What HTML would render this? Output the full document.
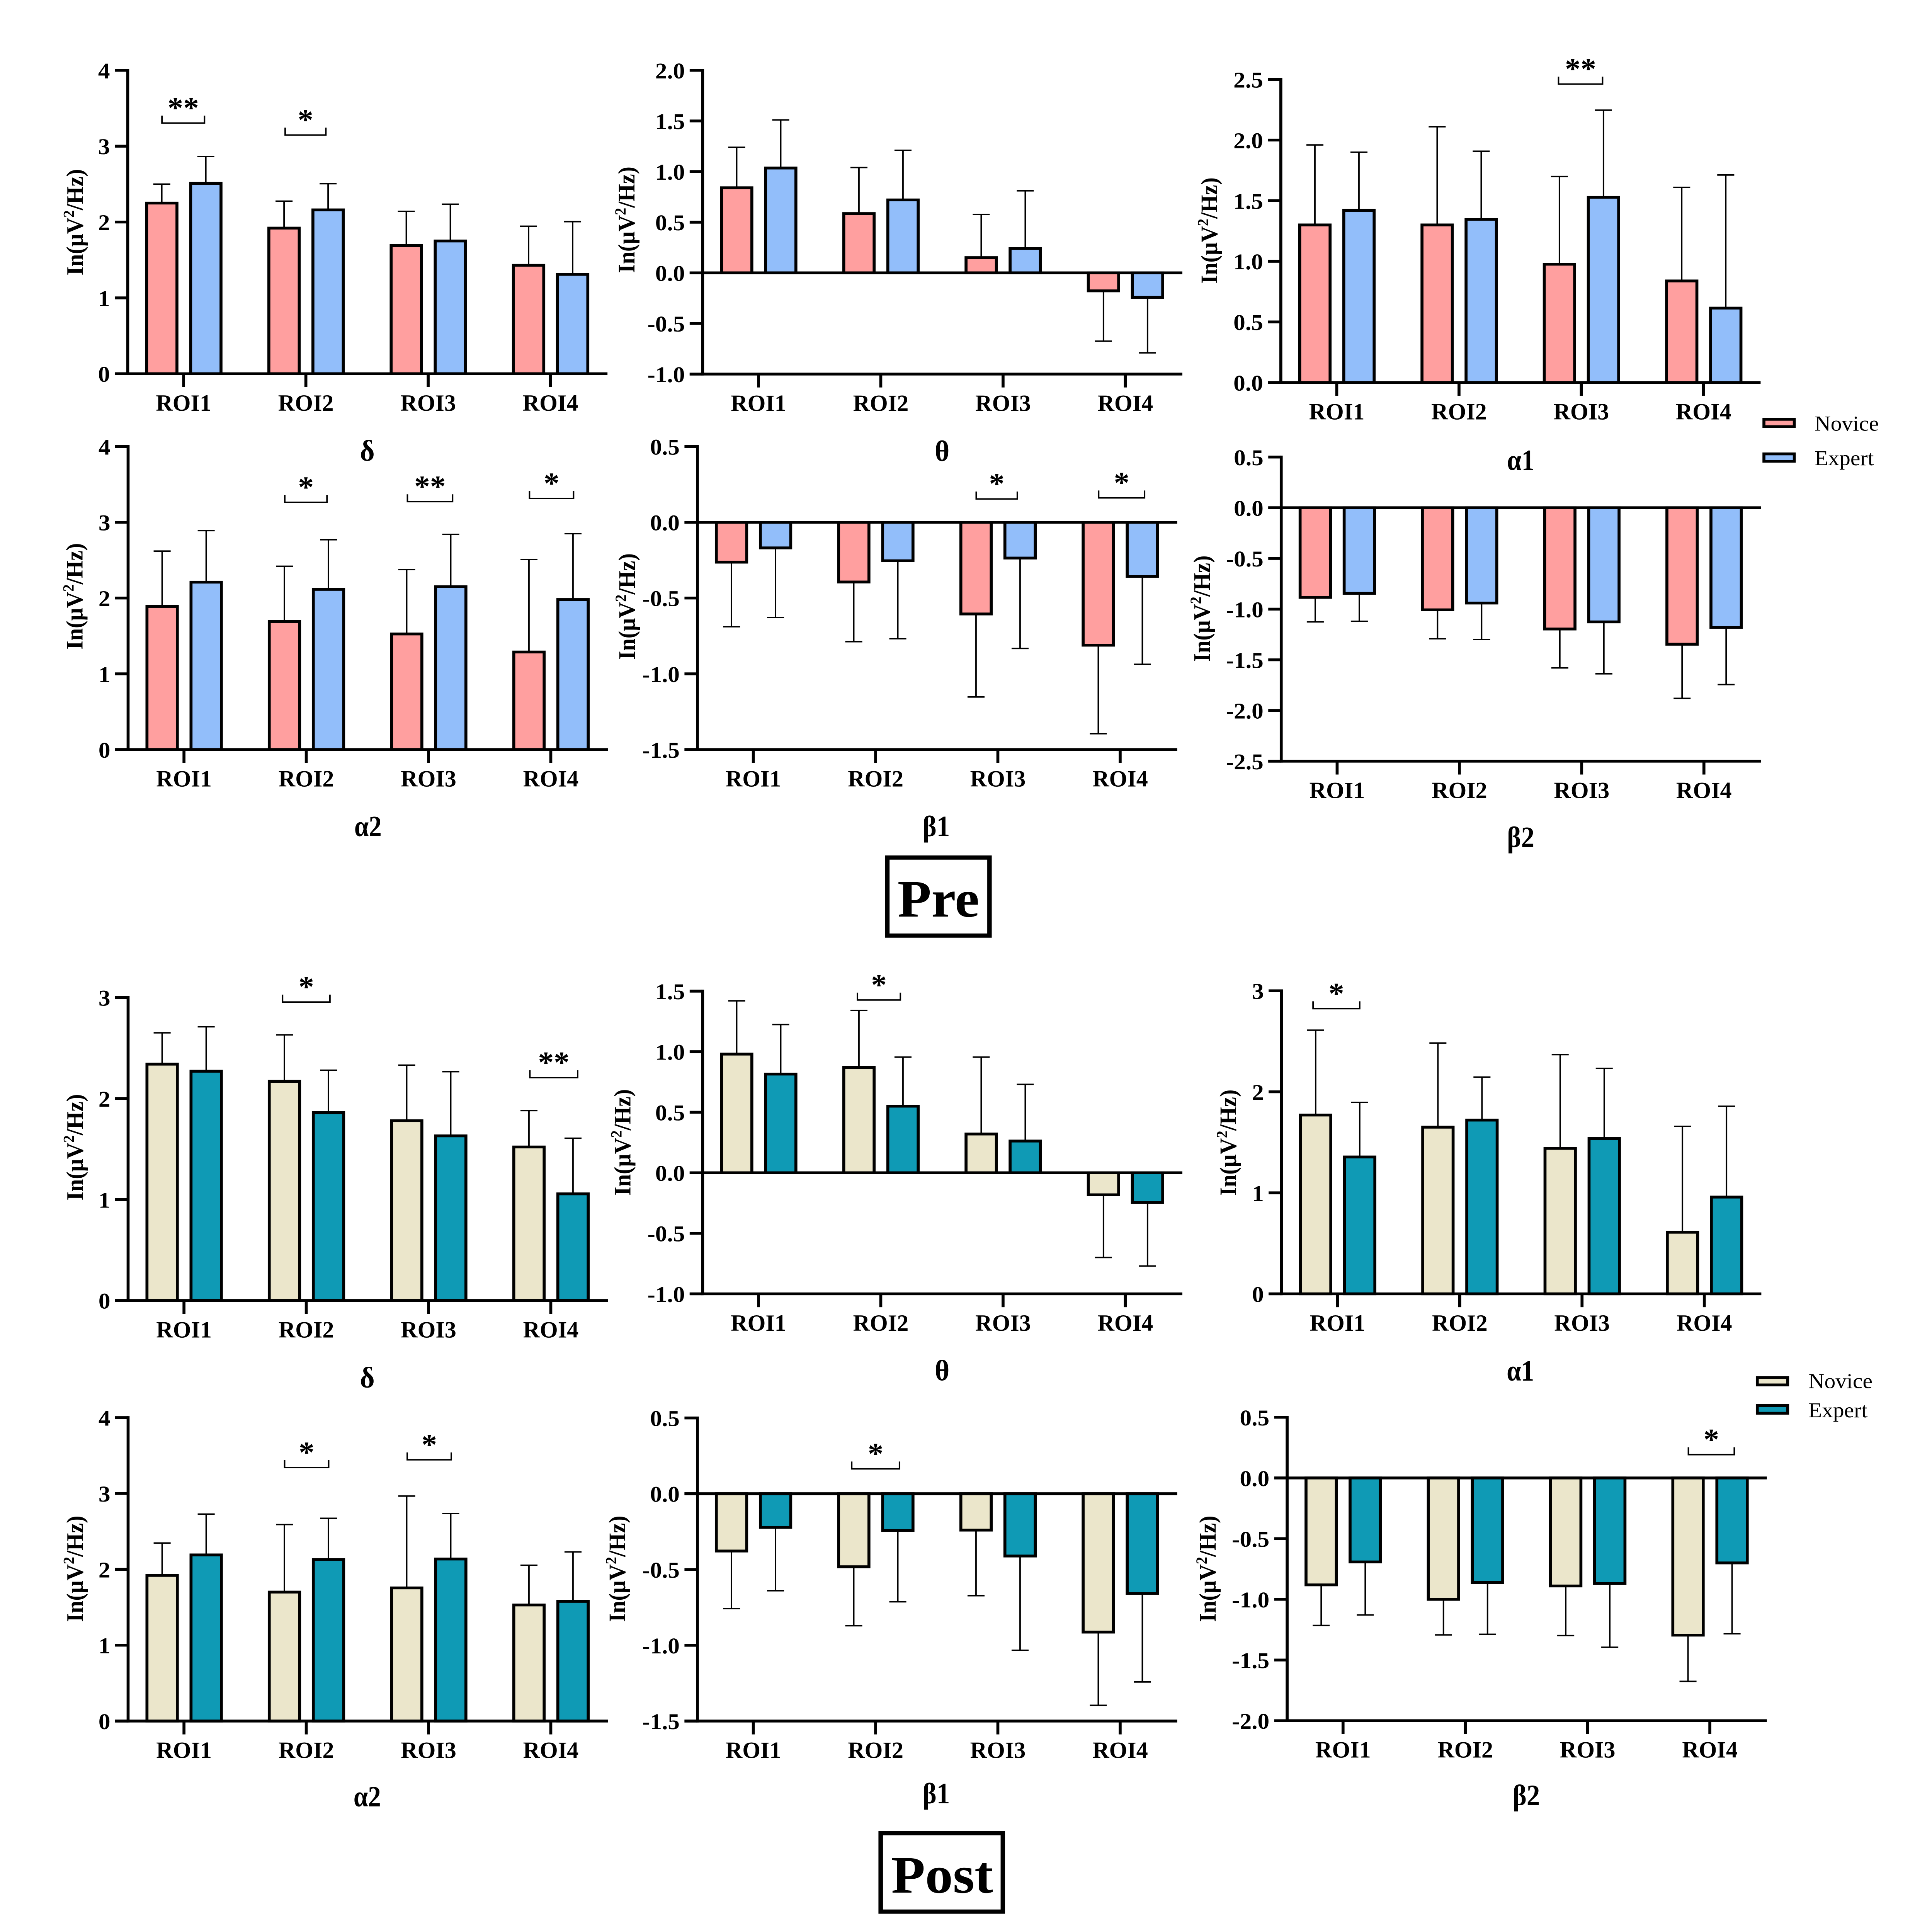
<!DOCTYPE html>
<html lang="en">
<head>
<meta charset="utf-8">
<title>Pre and Post band power by ROI</title>
<style>
html,body{margin:0;padding:0;background:#fff;width:100%;height:100%;overflow:hidden;}
svg{display:block;width:100vw;height:100vh;}
text{font-family:"Liberation Serif","DejaVu Serif",serif;fill:#000;}
</style>
</head>
<body>
<svg id="figure" xmlns="http://www.w3.org/2000/svg" viewBox="0 0 5219 5495" preserveAspectRatio="none">
  <rect x="0" y="0" width="5219" height="5495" fill="#fff"/>
  <g>
    <rect x="2397" y="2439" width="276" height="222" fill="none" stroke="#000" stroke-width="12"/>
    <text x="2535" y="2607" font-size="150" font-weight="700" text-anchor="middle" textLength="221" lengthAdjust="spacingAndGlyphs">Pre</text>
  </g>
  <g>
    <rect x="2379" y="5214" width="330" height="223" fill="none" stroke="#000" stroke-width="12"/>
    <text x="2545" y="5383" font-size="150" font-weight="700" text-anchor="middle">Post</text>
  </g>
  <g>
    <rect x="4765" y="1192.5" width="82" height="21" fill="#FF9F9F" stroke="#000" stroke-width="8"/>
    <text x="4902" y="1225" font-size="60">Novice</text>
    <rect x="4765" y="1291" width="82" height="21" fill="#92BEFA" stroke="#000" stroke-width="8"/>
    <text x="4902" y="1323" font-size="60">Expert</text>
  </g>
  <g>
    <rect x="4747" y="3918" width="82" height="21" fill="#EBE6CB" stroke="#000" stroke-width="8"/>
    <text x="4885" y="3948" font-size="60">Novice</text>
    <rect x="4747" y="3997.5" width="82" height="22" fill="#0F9AB5" stroke="#000" stroke-width="8"/>
    <text x="4885" y="4031" font-size="60">Expert</text>
  </g>
</svg>
<script>
// Shared categories
const categories = ['ROI1', 'ROI2', 'ROI3', 'ROI4'];

// Tick labels
const ticksPreDelta = ['0', '1', '2', '3', '4'];
const ticksPreTheta = ['-1.0', '-0.5', '0.0', '0.5', '1.0', '1.5', '2.0'];
const ticksPreAlpha1 = ['0.0', '0.5', '1.0', '1.5', '2.0', '2.5'];
const ticksPreAlpha2 = ['0', '1', '2', '3', '4'];
const ticksPreBeta1 = ['-1.5', '-1.0', '-0.5', '0.0', '0.5'];
const ticksPreBeta2 = ['-2.5', '-2.0', '-1.5', '-1.0', '-0.5', '0.0', '0.5'];
const ticksPostDelta = ['0', '1', '2', '3'];
const ticksPostTheta = ['-1.0', '-0.5', '0.0', '0.5', '1.0', '1.5'];
const ticksPostAlpha1 = ['0', '1', '2', '3'];
const ticksPostAlpha2 = ['0', '1', '2', '3', '4'];
const ticksPostBeta1 = ['-1.5', '-1.0', '-0.5', '0.0', '0.5'];
const ticksPostBeta2 = ['-2.0', '-1.5', '-1.0', '-0.5', '0.0', '0.5'];

// Pre: bar values and error-bar ends
const preDeltaNovice = [2.25, 1.92, 1.69, 1.43];
const preDeltaExpert = [2.51, 2.16, 1.75, 1.31];
const preDeltaNoviceErr = [2.50, 2.275, 2.14, 1.945];
const preDeltaExpertErr = [2.865, 2.505, 2.235, 2.005];

const preThetaNovice = [0.84, 0.585, 0.15, -0.178];
const preThetaExpert = [1.035, 0.72, 0.24, -0.242];
const preThetaNoviceErr = [1.24, 1.04, 0.577, -0.675];
const preThetaExpertErr = [1.51, 1.21, 0.81, -0.79];

const preAlpha1Novice = [1.30, 1.30, 0.976, 0.838];
const preAlpha1Expert = [1.42, 1.346, 1.528, 0.614];
const preAlpha1NoviceErr = [1.96, 2.11, 1.70, 1.61];
const preAlpha1ExpertErr = [1.90, 1.908, 2.247, 1.712];

const preAlpha2Novice = [1.89, 1.69, 1.526, 1.288];
const preAlpha2Expert = [2.21, 2.115, 2.15, 1.98];
const preAlpha2NoviceErr = [2.62, 2.42, 2.375, 2.51];
const preAlpha2ExpertErr = [2.89, 2.77, 2.84, 2.85];

const preBeta1Novice = [-0.263, -0.394, -0.605, -0.811];
const preBeta1Expert = [-0.169, -0.254, -0.236, -0.357];
const preBeta1NoviceErr = [-0.689, -0.788, -1.153, -1.395];
const preBeta1ExpertErr = [-0.628, -0.768, -0.833, -0.937];

const preBeta2Novice = [-0.884, -1.007, -1.196, -1.346];
const preBeta2Expert = [-0.844, -0.94, -1.126, -1.18];
const preBeta2NoviceErr = [-1.126, -1.292, -1.58, -1.88];
const preBeta2ExpertErr = [-1.12, -1.30, -1.638, -1.744];

// Post: bar values and error-bar ends
const postDeltaNovice = [2.34, 2.17, 1.78, 1.52];
const postDeltaExpert = [2.27, 1.86, 1.63, 1.056];
const postDeltaNoviceErr = [2.65, 2.63, 2.33, 1.88];
const postDeltaExpertErr = [2.71, 2.28, 2.265, 1.607];

const postThetaNovice = [0.98, 0.87, 0.32, -0.182];
const postThetaExpert = [0.815, 0.55, 0.262, -0.246];
const postThetaNoviceErr = [1.42, 1.34, 0.955, -0.70];
const postThetaExpertErr = [1.224, 0.955, 0.73, -0.77];

const postAlpha1Novice = [1.77, 1.65, 1.44, 0.61];
const postAlpha1Expert = [1.355, 1.72, 1.537, 0.958];
const postAlpha1NoviceErr = [2.61, 2.483, 2.368, 1.658];
const postAlpha1ExpertErr = [1.895, 2.146, 2.232, 1.857];

const postAlpha2Novice = [1.92, 1.70, 1.755, 1.53];
const postAlpha2Expert = [2.19, 2.13, 2.136, 1.578];
const postAlpha2NoviceErr = [2.347, 2.59, 2.966, 2.054];
const postAlpha2ExpertErr = [2.728, 2.673, 2.735, 2.23];

const postBeta1Novice = [-0.378, -0.482, -0.24, -0.913];
const postBeta1Expert = [-0.222, -0.242, -0.411, -0.658];
const postBeta1NoviceErr = [-0.758, -0.871, -0.673, -1.396];
const postBeta1ExpertErr = [-0.64, -0.713, -1.033, -1.242];

const postBeta2Novice = [-0.881, -1.0, -0.89, -1.295];
const postBeta2Expert = [-0.692, -0.861, -0.87, -0.70];
const postBeta2NoviceErr = [-1.215, -1.293, -1.298, -1.676];
const postBeta2ExpertErr = [-1.129, -1.288, -1.395, -1.284];

const PRE_NOVICE = '#FF9F9F';
const PRE_EXPERT = '#92BEFA';
const POST_NOVICE = '#EBE6CB';
const POST_EXPERT = '#0F9AB5';

const NS = 'http://www.w3.org/2000/svg';
const figure = document.getElementById('figure');

function make(tag, parent, attrs, content) {
  const el = document.createElementNS(NS, tag);
  for (const key in attrs) el.setAttribute(key, attrs[key]);
  if (content !== undefined) el.textContent = content;
  parent.appendChild(el);
  return el;
}

function drawPanel(p) {
  const group = make('g', figure, {});
  
  

  const numeric = p.ticks.map(Number);
  const minV = Math.min.apply(null, numeric);
  const maxV = Math.max.apply(null, numeric);
  const yScale = function (v) { return p.top + (maxV - v) / (maxV - minV) * (p.bottom - p.top); };
  const xScale = function (i) { return p.axisX + 151 + i * 330.3; };
  const right = p.axisX + 1296;
  const leftEnd = p.axisX - 35;

  // Error bars sit behind the bars
  categories.forEach(function (cat, i) {
    [[p.novice, p.noviceErr, -59], [p.expert, p.expertErr, 60]].forEach(function (s) {
      const cx = xScale(i) + s[2];
      const stem = make('line', group, { x1: cx, x2: cx, y1: yScale(s[0][i]), y2: yScale(s[1][i]), stroke: '#000', 'stroke-width': 4 });
      
      
      const cap = make('line', group, { x1: cx - 23, x2: cx + 23, y1: yScale(s[1][i]), y2: yScale(s[1][i]), stroke: '#000', 'stroke-width': 4 });
      
      
    });
  });

  // Bars
  categories.forEach(function (cat, i) {
    const cx0 = xScale(i) - 59;
    const y0a = yScale(p.novice[i]);
    const zero0 = yScale(0);
    const noviceBar = make('rect', group, { x: cx0 - 41, width: 82, y: Math.min(y0a, zero0), height: Math.abs(zero0 - y0a), fill: p.noviceColor, stroke: '#000', 'stroke-width': 8 });
    
    
    const cx1 = xScale(i) + 60;
    const y1a = yScale(p.expert[i]);
    const expertBar = make('rect', group, { x: cx1 - 41, width: 82, y: Math.min(y1a, zero0), height: Math.abs(zero0 - y1a), fill: p.expertColor, stroke: '#000', 'stroke-width': 8 });
    
    
  });

  // Y axis and ticks
  const yAxis = make('line', group, { x1: p.axisX, x2: p.axisX, y1: p.top - 4, y2: p.bottom + 4, stroke: '#000', 'stroke-width': 8 });
  
  
  p.ticks.forEach(function (label) {
    const y = yScale(Number(label));
    const tick = make('line', group, { x1: leftEnd, x2: p.axisX, y1: y, y2: y, stroke: '#000', 'stroke-width': 8 });
    
    
    const text = make('text', group, { x: p.axisX - 48, y: y + 23, 'font-size': 64, 'font-weight': 700, 'text-anchor': 'end' }, label);
    
    
  });

  // X axis and zero line
  const xAxis = make('line', group, { x1: leftEnd, x2: right, y1: p.bottom, y2: p.bottom, stroke: '#000', 'stroke-width': 8 });
  
  
  if (minV < 0) {
    const zeroLine = make('line', group, { x1: leftEnd, x2: right, y1: yScale(0), y2: yScale(0), stroke: '#000', 'stroke-width': 8 });
    
    
  }
  categories.forEach(function (cat, i) {
    const x = xScale(i);
    const tick = make('line', group, { x1: x, x2: x, y1: p.bottom, y2: p.bottom + 38, stroke: '#000', 'stroke-width': 8 });
    
    
    const text = make('text', group, { x: x, y: p.bottom + 105, 'font-size': 66, 'font-weight': 700, 'text-anchor': 'middle', textLength: 150, lengthAdjust: 'spacingAndGlyphs' }, cat);
    
    
  });

  // Y axis title
  const yTitle = make('text', group, { transform: 'translate(' + (p.axisX + p.yTitleDx) + ',' + p.yTitleCy + ') rotate(-90)', 'font-size': 64, 'font-weight': 700, 'text-anchor': 'middle' });
  
  
  make('tspan', yTitle, {}, 'In(\u03BCV');
  make('tspan', yTitle, { dy: -24, 'font-size': 42 }, '2');
  make('tspan', yTitle, { dy: 24 }, '/Hz)');

  // Panel title
  const title = make('text', group, { x: p.titleX, y: p.titleY, 'font-size': 84, 'font-weight': 700, 'text-anchor': 'middle', textLength: p.title.length > 1 ? 74 : 40, lengthAdjust: 'spacingAndGlyphs' }, p.title);
  
  

  // Significance brackets
  p.brackets.forEach(function (b) {
    const cx = xScale(b.roi) + b.dx;
    const y = yScale(b.level);
    const bracket = make('path', group, { d: 'M' + (cx - b.w / 2) + ' ' + (y - 21) + ' V' + y + ' H' + (cx + b.w / 2) + ' V' + (y - 21), fill: 'none', stroke: '#000', 'stroke-width': 4 });
    
    
    const star = make('text', group, { x: cx, y: y - 15, 'font-size': 85, 'font-weight': 700, 'text-anchor': 'middle' }, b.stars);
    
    
  });
}

const panels = [
  { title: '\u03B4', axisX: 345, top: 200, bottom: 1063, ticks: ticksPreDelta, novice: preDeltaNovice, expert: preDeltaExpert, noviceErr: preDeltaNoviceErr, expertErr: preDeltaExpertErr, noviceColor: PRE_NOVICE, expertColor: PRE_EXPERT, titleX: 992, titleY: 1310, yTitleDx: -121, yTitleCy: 632,
    brackets: [{ roi: 0, level: 3.305, stars: '**', dx: -1, w: 115 }, { roi: 1, level: 3.147, stars: '*', dx: -1, w: 110 }] },
  { title: '\u03B8', axisX: 1898, top: 200, bottom: 1064, ticks: ticksPreTheta, novice: preThetaNovice, expert: preThetaExpert, noviceErr: preThetaNoviceErr, expertErr: preThetaExpertErr, noviceColor: PRE_NOVICE, expertColor: PRE_EXPERT, titleX: 2545, titleY: 1311, yTitleDx: -184, yTitleCy: 625,
    brackets: [] },
  { title: '\u03B11', axisX: 3460, top: 226, bottom: 1088, ticks: ticksPreAlpha1, novice: preAlpha1Novice, expert: preAlpha1Expert, noviceErr: preAlpha1NoviceErr, expertErr: preAlpha1ExpertErr, noviceColor: PRE_NOVICE, expertColor: PRE_EXPERT, titleX: 4108, titleY: 1337, yTitleDx: -172, yTitleCy: 656,
    brackets: [{ roi: 2, level: 2.462, stars: '**', dx: -2, w: 119 }] },
  { title: '\u03B12', axisX: 346, top: 1270, bottom: 2132, ticks: ticksPreAlpha2, novice: preAlpha2Novice, expert: preAlpha2Expert, noviceErr: preAlpha2NoviceErr, expertErr: preAlpha2ExpertErr, noviceColor: PRE_NOVICE, expertColor: PRE_EXPERT, titleX: 994, titleY: 2378, yTitleDx: -123, yTitleCy: 1696,
    brackets: [{ roi: 1, level: 3.263, stars: '*', dx: -1, w: 114 }, { roi: 2, level: 3.272, stars: '**', dx: 4, w: 122 }, { roi: 3, level: 3.314, stars: '*', dx: 2, w: 119 }] },
  { title: '\u03B21', axisX: 1884, top: 1270, bottom: 2132, ticks: ticksPreBeta1, novice: preBeta1Novice, expert: preBeta1Expert, noviceErr: preBeta1NoviceErr, expertErr: preBeta1ExpertErr, noviceColor: PRE_NOVICE, expertColor: PRE_EXPERT, titleX: 2529, titleY: 2378, yTitleDx: -169, yTitleCy: 1725,
    brackets: [{ roi: 2, level: 0.154, stars: '*', dx: -3, w: 111 }, { roi: 3, level: 0.161, stars: '*', dx: 4, w: 124 }] },
  { title: '\u03B22', axisX: 3461, top: 1300, bottom: 2165, ticks: ticksPreBeta2, novice: preBeta2Novice, expert: preBeta2Expert, noviceErr: preBeta2NoviceErr, expertErr: preBeta2ExpertErr, noviceColor: PRE_NOVICE, expertColor: PRE_EXPERT, titleX: 4108, titleY: 2409, yTitleDx: -193, yTitleCy: 1731,
    brackets: [] },
  { title: '\u03B4', axisX: 346, top: 2837, bottom: 3699, ticks: ticksPostDelta, novice: postDeltaNovice, expert: postDeltaExpert, noviceErr: postDeltaNoviceErr, expertErr: postDeltaExpertErr, noviceColor: POST_NOVICE, expertColor: POST_EXPERT, titleX: 992, titleY: 3946, yTitleDx: -122, yTitleCy: 3263,
    brackets: [{ roi: 1, level: 2.955, stars: '*', dx: 0, w: 128 }, { roi: 3, level: 2.207, stars: '**', dx: 8, w: 129 }] },
  { title: '\u03B8', axisX: 1898, top: 2819, bottom: 3680, ticks: ticksPostTheta, novice: postThetaNovice, expert: postThetaExpert, noviceErr: postThetaNoviceErr, expertErr: postThetaExpertErr, noviceColor: POST_NOVICE, expertColor: POST_EXPERT, titleX: 2545, titleY: 3926, yTitleDx: -195, yTitleCy: 3249,
    brackets: [{ roi: 1, level: 1.427, stars: '*', dx: -5, w: 116 }] },
  { title: '\u03B11', axisX: 3462, top: 2818, bottom: 3680, ticks: ticksPostAlpha1, novice: postAlpha1Novice, expert: postAlpha1Expert, noviceErr: postAlpha1NoviceErr, expertErr: postAlpha1ExpertErr, noviceColor: POST_NOVICE, expertColor: POST_EXPERT, titleX: 4107, titleY: 3927, yTitleDx: -123, yTitleCy: 3250,
    brackets: [{ roi: 0, level: 2.823, stars: '*', dx: -3, w: 126 }] },
  { title: '\u03B12', axisX: 346, top: 4032, bottom: 4895, ticks: ticksPostAlpha2, novice: postAlpha2Novice, expert: postAlpha2Expert, noviceErr: postAlpha2NoviceErr, expertErr: postAlpha2ExpertErr, noviceColor: POST_NOVICE, expertColor: POST_EXPERT, titleX: 992, titleY: 5138, yTitleDx: -122, yTitleCy: 4462,
    brackets: [{ roi: 1, level: 3.342, stars: '*', dx: 1, w: 119 }, { roi: 2, level: 3.444, stars: '*', dx: 2, w: 119 }] },
  { title: '\u03B21', axisX: 1884, top: 4033, bottom: 4895, ticks: ticksPostBeta1, novice: postBeta1Novice, expert: postBeta1Expert, noviceErr: postBeta1NoviceErr, expertErr: postBeta1ExpertErr, noviceColor: POST_NOVICE, expertColor: POST_EXPERT, titleX: 2529, titleY: 5129, yTitleDx: -195, yTitleCy: 4462,
    brackets: [{ roi: 1, level: 0.164, stars: '*', dx: 0, w: 129 }] },
  { title: '\u03B22', axisX: 3477, top: 4031, bottom: 4894, ticks: ticksPostBeta2, novice: postBeta2Novice, expert: postBeta2Expert, noviceErr: postBeta2NoviceErr, expertErr: postBeta2ExpertErr, noviceColor: POST_NOVICE, expertColor: POST_EXPERT, titleX: 4123, titleY: 5134, yTitleDx: -193, yTitleCy: 4462,
    brackets: [{ roi: 3, level: 0.192, stars: '*', dx: 4, w: 124 }] }
];

panels.forEach(drawPanel);
</script>
</body>
</html>
